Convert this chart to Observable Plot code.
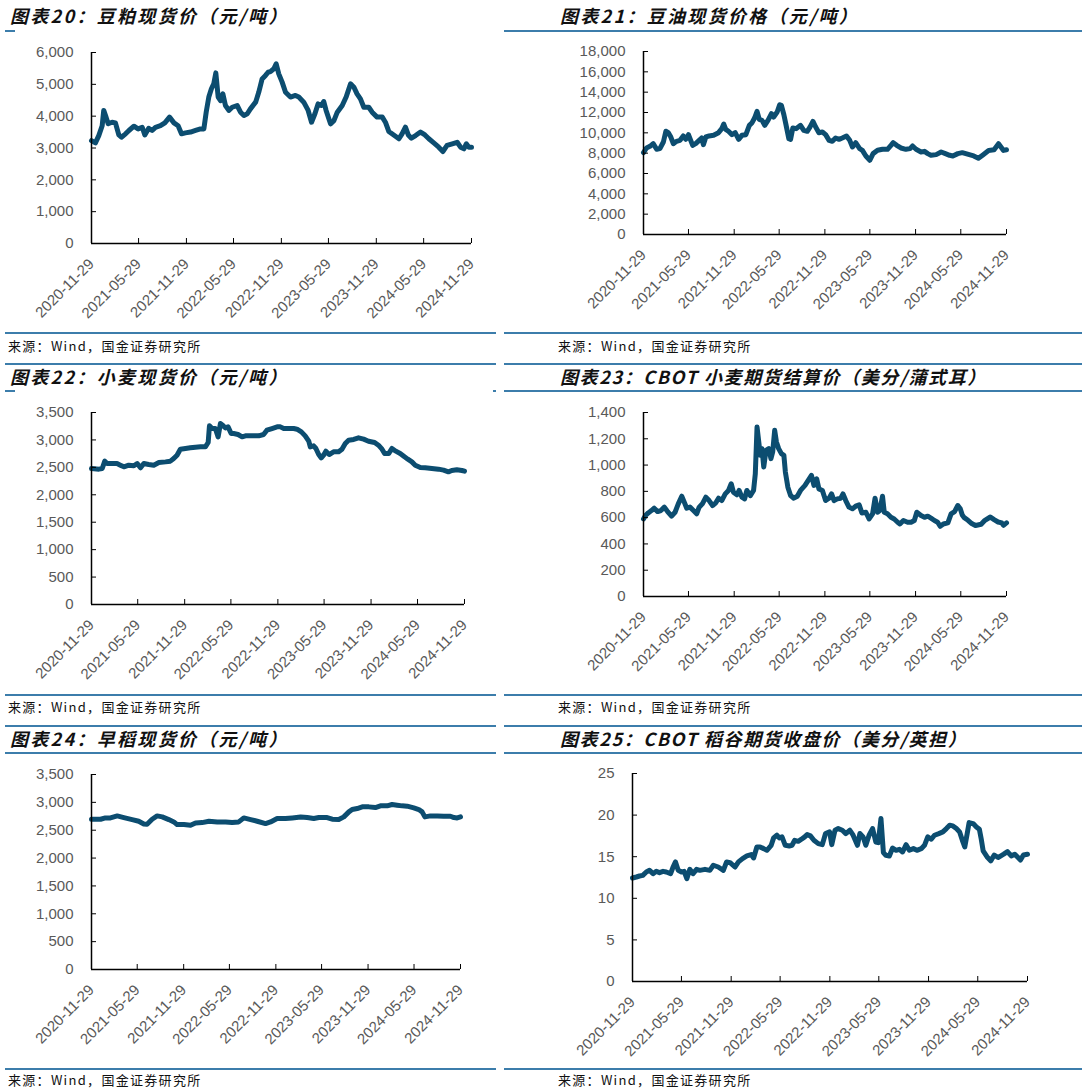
<!DOCTYPE html>
<html><head><meta charset="utf-8">
<script src="https://cdn.jsdelivr.net/npm/d3@7"></script>
<script src="https://cdn.jsdelivr.net/npm/@observablehq/plot@0.6"></script>
<style>
body{margin:0;background:#fff;}
#page{position:relative;width:1086px;height:1092px;overflow:hidden;background:#fff;}
.title{position:absolute;font-family:"Noto Sans CJK SC",sans-serif;font-weight:700;font-style:italic;font-size:18px;letter-spacing:2.3px;color:#111;white-space:nowrap;line-height:18px;}
.title.tight{letter-spacing:1.6px;}
.src{position:absolute;font-family:"Noto Sans CJK SC",sans-serif;font-size:13px;letter-spacing:1.3px;color:#111;white-space:nowrap;line-height:13px;}
.rule{position:absolute;height:2px;background:#3c7dab;}
.chart{position:absolute;}
</style></head><body><div id="page"></div>
<script>
const titles = ["图表20：豆粕现货价（元/吨）","图表21：豆油现货价格（元/吨）","图表22：小麦现货价（元/吨）","图表23：CBOT 小麦期货结算价（美分/蒲式耳）","图表24：早稻现货价（元/吨）","图表25：CBOT 稻谷期货收盘价（美分/英担）"];
const sourceText = "来源：Wind，国金证券研究所";
const xTickLabels = ["2020-11-29","2021-05-29","2021-11-29","2022-05-29","2022-11-29","2023-05-29","2023-11-29","2024-05-29","2024-11-29"];

const mealDates = ["2020-11-29","2020-12-14","2020-12-27","2021-01-09","2021-01-15","2021-01-24","2021-02-01","2021-02-16","2021-03-01","2021-03-14","2021-03-24","2021-04-09","2021-04-22","2021-05-11","2021-05-27","2021-06-12","2021-06-22","2021-07-07","2021-07-20","2021-08-02","2021-08-21","2021-09-07","2021-09-25","2021-10-12","2021-10-28","2021-11-10","2021-11-25","2021-12-15","2022-01-03","2022-01-22","2022-02-04","2022-02-13","2022-02-23","2022-03-05","2022-03-14","2022-03-22","2022-03-31","2022-04-09","2022-04-18","2022-04-28","2022-05-11","2022-05-24","2022-06-12","2022-06-25","2022-07-08","2022-07-21","2022-08-02","2022-08-22","2022-09-03","2022-09-16","2022-09-29","2022-10-09","2022-10-18","2022-10-31","2022-11-09","2022-11-19","2022-12-02","2022-12-15","2023-01-03","2023-01-22","2023-02-04","2023-02-23","2023-03-12","2023-03-25","2023-04-07","2023-04-19","2023-05-02","2023-05-11","2023-05-20","2023-06-06","2023-06-19","2023-07-02","2023-07-21","2023-08-05","2023-08-22","2023-09-04","2023-09-16","2023-09-29","2023-10-12","2023-10-31","2023-11-13","2023-12-02","2023-12-22","2024-01-03","2024-01-16","2024-02-04","2024-02-24","2024-03-07","2024-03-20","2024-03-31","2024-04-12","2024-04-28","2024-05-17","2024-06-03","2024-06-18","2024-07-07","2024-07-26","2024-08-11","2024-08-27","2024-09-16","2024-10-05","2024-10-18","2024-10-31","2024-11-09","2024-11-19","2024-11-29"];
const mealValues = [3230,3160,3390,3700,4180,3970,3760,3810,3790,3410,3340,3445,3550,3685,3600,3650,3410,3620,3550,3650,3700,3790,3970,3790,3700,3445,3475,3500,3550,3600,3600,4125,4600,4860,5015,5360,4600,4490,4700,4335,4180,4280,4335,4125,4020,4075,4230,4440,4750,5170,5280,5380,5400,5490,5645,5330,5070,4750,4600,4650,4600,4440,4180,3810,4075,4385,4335,4460,4180,3760,3860,4125,4335,4600,5015,4910,4700,4545,4280,4280,4125,3970,3970,3810,3520,3410,3290,3445,3655,3410,3310,3390,3500,3410,3290,3160,3025,2890,3080,3130,3180,3025,2975,3130,3025,3025];

const oilDates = ["2020-11-29","2020-12-11","2020-12-25","2021-01-07","2021-01-21","2021-02-03","2021-02-17","2021-02-27","2021-03-09","2021-03-19","2021-03-29","2021-04-11","2021-04-25","2021-05-08","2021-05-18","2021-05-29","2021-06-07","2021-06-15","2021-06-27","2021-07-11","2021-07-21","2021-07-28","2021-08-07","2021-08-20","2021-09-07","2021-09-27","2021-10-10","2021-10-18","2021-10-26","2021-11-06","2021-11-20","2021-12-03","2021-12-17","2021-12-30","2022-01-15","2022-01-29","2022-02-09","2022-02-19","2022-03-01","2022-03-10","2022-03-21","2022-04-01","2022-04-14","2022-04-28","2022-05-07","2022-05-21","2022-05-31","2022-06-07","2022-06-17","2022-06-26","2022-07-07","2022-07-14","2022-07-23","2022-08-05","2022-08-23","2022-09-05","2022-09-19","2022-09-30","2022-10-12","2022-10-23","2022-11-05","2022-11-19","2022-12-02","2022-12-16","2022-12-29","2023-01-11","2023-01-25","2023-02-07","2023-02-24","2023-03-09","2023-03-20","2023-04-02","2023-04-18","2023-04-29","2023-05-13","2023-05-29","2023-06-11","2023-06-29","2023-07-19","2023-08-08","2023-08-22","2023-08-31","2023-09-14","2023-10-01","2023-10-21","2023-11-07","2023-11-17","2023-12-01","2023-12-21","2024-01-04","2024-01-17","2024-01-30","2024-02-20","2024-03-11","2024-03-28","2024-04-14","2024-04-27","2024-05-17","2024-06-04","2024-07-20","2024-08-08","2024-08-26","2024-09-18","2024-10-10","2024-10-28","2024-11-17","2024-11-29"];
const oilValues = [8050,8510,8670,8935,8380,8445,9100,10150,10015,9590,8935,9165,9260,9690,9360,9820,9260,8770,8935,9260,9490,8840,9590,9690,9755,10015,10410,10865,10340,10150,9820,10015,9360,9755,9820,10735,11000,11455,12110,11325,11225,10735,11225,11880,11555,12045,12765,12700,11780,10735,9425,9360,10475,10410,10735,10245,10150,10570,11130,10570,10015,10080,9820,9260,9165,9490,9360,9490,9690,9260,8610,9035,8445,8280,7725,7300,7955,8280,8380,8380,8770,9035,8770,8510,8380,8445,8705,8380,8115,8180,7955,7790,7855,8115,7955,7790,7725,7955,8050,7730,7500,7830,8270,8330,8930,8270,8330];

const wheatDates = ["2020-11-29","2020-12-28","2021-01-10","2021-01-20","2021-01-29","2021-02-18","2021-03-09","2021-03-22","2021-04-05","2021-04-24","2021-05-14","2021-05-27","2021-06-09","2021-06-22","2021-07-11","2021-07-31","2021-08-20","2021-09-15","2021-10-04","2021-10-17","2021-10-30","2021-11-12","2021-12-02","2021-12-21","2022-01-10","2022-01-30","2022-02-18","2022-03-01","2022-03-06","2022-03-16","2022-03-29","2022-04-09","2022-04-18","2022-04-27","2022-05-07","2022-05-18","2022-05-30","2022-06-09","2022-06-26","2022-07-12","2022-07-25","2022-08-20","2022-09-15","2022-10-04","2022-10-17","2022-11-06","2022-11-26","2022-12-09","2022-12-22","2023-01-10","2023-01-30","2023-02-12","2023-03-01","2023-03-16","2023-03-30","2023-04-05","2023-04-18","2023-04-27","2023-05-08","2023-05-18","2023-05-27","2023-06-05","2023-06-18","2023-07-05","2023-07-25","2023-08-07","2023-08-20","2023-09-02","2023-09-22","2023-10-11","2023-10-31","2023-11-19","2023-12-13","2023-12-28","2024-01-11","2024-01-21","2024-02-06","2024-02-19","2024-03-05","2024-03-22","2024-04-08","2024-04-21","2024-05-07","2024-05-20","2024-06-09","2024-06-28","2024-07-24","2024-08-19","2024-09-08","2024-09-27","2024-10-10","2024-10-30","2024-11-19","2024-11-29"];
const wheatValues = [2479,2467,2479,2613,2570,2570,2570,2540,2509,2540,2528,2570,2491,2570,2552,2540,2588,2600,2613,2661,2722,2831,2844,2856,2868,2874,2874,2953,3257,3208,3208,3056,3299,3269,3220,3238,3117,3117,3099,3056,3074,3074,3074,3099,3178,3208,3238,3238,3208,3208,3208,3196,3147,3074,2977,2874,2892,2844,2734,2673,2722,2795,2734,2783,2783,2831,2935,2996,3008,3038,3014,2977,2953,2904,2831,2752,2752,2844,2795,2752,2692,2649,2600,2540,2497,2491,2479,2467,2449,2418,2443,2455,2443,2430];

const cbotWheatDates = ["2020-11-29","2020-12-07","2020-12-18","2020-12-31","2021-01-11","2021-01-25","2021-02-07","2021-02-21","2021-03-06","2021-03-22","2021-04-05","2021-04-18","2021-05-02","2021-05-12","2021-05-22","2021-06-04","2021-06-18","2021-07-01","2021-07-11","2021-07-24","2021-08-07","2021-08-20","2021-09-03","2021-09-16","2021-09-27","2021-10-10","2021-10-24","2021-11-06","2021-11-17","2021-11-26","2021-12-10","2021-12-19","2021-12-30","2022-01-10","2022-01-19","2022-02-02","2022-02-15","2022-02-22","2022-03-01","2022-03-08","2022-03-14","2022-03-21","2022-03-28","2022-04-06","2022-04-17","2022-04-26","2022-05-03","2022-05-11","2022-05-18","2022-05-27","2022-06-07","2022-06-17","2022-06-23","2022-07-03","2022-07-14","2022-07-27","2022-08-10","2022-08-23","2022-09-10","2022-09-23","2022-10-06","2022-10-16","2022-10-27","2022-11-05","2022-11-19","2022-12-02","2022-12-16","2022-12-26","2023-01-05","2023-01-18","2023-02-01","2023-02-10","2023-02-21","2023-03-06","2023-03-20","2023-04-02","2023-04-16","2023-04-27","2023-05-13","2023-05-26","2023-06-09","2023-06-19","2023-06-29","2023-07-08","2023-07-19","2023-07-26","2023-08-08","2023-08-22","2023-09-04","2023-09-18","2023-09-27","2023-10-11","2023-10-28","2023-11-11","2023-11-24","2023-12-04","2023-12-21","2024-01-04","2024-01-17","2024-01-30","2024-02-13","2024-02-26","2024-03-07","2024-03-20","2024-04-07","2024-04-20","2024-05-04","2024-05-17","2024-05-27","2024-06-04","2024-06-12","2024-06-27","2024-07-12","2024-07-27","2024-08-19","2024-09-03","2024-09-25","2024-10-10","2024-10-26","2024-11-10","2024-11-17","2024-11-29"];
const cbotWheatValues = [590,616,636,654,672,646,654,680,646,611,641,705,763,718,672,680,654,629,680,705,756,730,692,713,748,730,781,807,858,794,774,807,756,743,807,768,807,934,1290,1176,1074,1125,985,1112,1125,1049,1100,1265,1176,1125,1087,1074,947,832,768,748,763,807,845,883,921,845,896,819,807,730,748,781,730,743,748,781,730,680,667,687,697,636,641,590,629,748,641,654,763,641,629,603,590,565,552,578,565,565,578,641,616,603,611,596,578,565,534,552,560,629,646,692,667,620,600,580,555,540,550,580,605,585,567,560,542,560];

const riceDates = ["2020-11-29","2021-01-04","2021-01-23","2021-02-12","2021-03-11","2021-04-06","2021-05-09","2021-06-04","2021-06-24","2021-07-07","2021-07-27","2021-08-16","2021-09-05","2021-10-01","2021-10-21","2021-11-03","2021-11-30","2021-12-26","2022-01-15","2022-02-10","2022-03-09","2022-04-11","2022-05-14","2022-06-09","2022-07-05","2022-07-25","2022-08-21","2022-09-16","2022-10-19","2022-11-08","2022-12-04","2023-01-06","2023-02-02","2023-03-07","2023-04-02","2023-04-28","2023-05-18","2023-06-20","2023-07-10","2023-08-05","2023-08-25","2023-09-14","2023-09-27","2023-10-17","2023-11-06","2023-12-02","2023-12-28","2024-01-17","2024-02-13","2024-03-03","2024-03-23","2024-04-12","2024-05-02","2024-05-28","2024-06-17","2024-06-30","2024-07-11","2024-08-02","2024-08-29","2024-09-24","2024-10-20","2024-11-03","2024-11-16","2024-11-29"];
const riceValues = [2697,2697,2721,2721,2757,2727,2691,2661,2613,2607,2697,2757,2739,2691,2649,2601,2601,2589,2631,2637,2661,2649,2649,2637,2649,2721,2691,2661,2619,2649,2709,2709,2721,2739,2727,2709,2727,2727,2697,2691,2739,2829,2871,2889,2919,2919,2907,2937,2937,2961,2949,2937,2931,2901,2871,2829,2739,2757,2757,2751,2751,2727,2721,2739];

const cbotRiceDates = ["2020-11-29","2020-12-13","2020-12-25","2021-01-06","2021-01-19","2021-01-31","2021-02-13","2021-02-25","2021-03-09","2021-03-22","2021-04-03","2021-04-19","2021-04-28","2021-05-07","2021-05-17","2021-05-29","2021-06-08","2021-06-18","2021-06-29","2021-07-11","2021-07-24","2021-08-05","2021-08-24","2021-09-11","2021-09-24","2021-10-12","2021-10-31","2021-11-12","2021-11-25","2021-12-13","2021-12-26","2022-01-10","2022-01-26","2022-02-11","2022-02-20","2022-03-04","2022-03-16","2022-03-29","2022-04-10","2022-04-26","2022-05-05","2022-05-17","2022-05-26","2022-06-05","2022-06-17","2022-07-02","2022-07-12","2022-07-22","2022-08-04","2022-08-16","2022-08-28","2022-09-06","2022-09-18","2022-10-01","2022-10-17","2022-11-01","2022-11-13","2022-11-28","2022-12-06","2022-12-18","2022-12-30","2023-01-14","2023-01-27","2023-02-11","2023-02-23","2023-03-11","2023-03-20","2023-04-01","2023-04-11","2023-04-23","2023-05-06","2023-05-18","2023-05-27","2023-06-06","2023-06-15","2023-06-24","2023-07-07","2023-07-19","2023-08-01","2023-08-13","2023-08-25","2023-09-07","2023-09-19","2023-10-04","2023-10-17","2023-11-02","2023-11-14","2023-11-26","2023-12-09","2023-12-21","2024-01-06","2024-01-21","2024-02-03","2024-02-15","2024-02-27","2024-03-11","2024-03-23","2024-04-02","2024-04-11","2024-04-20","2024-04-27","2024-05-12","2024-05-24","2024-06-04","2024-06-11","2024-06-18","2024-07-02","2024-07-16","2024-07-29","2024-08-12","2024-09-02","2024-09-16","2024-09-30","2024-10-13","2024-11-03","2024-11-14","2024-11-29"];
const cbotRiceValues = [12.44,12.56,12.68,12.76,13.16,13.36,12.96,13.24,13.08,13.24,13.16,12.96,13.76,14.37,13.36,13.16,13.24,12.36,13.48,12.96,13.48,13.36,13.48,13.36,13.97,13.76,13.36,14.37,14.29,13.76,14.37,14.77,15.09,15.25,14.85,16.17,16.17,15.97,15.77,16.37,17.26,17.58,17.26,17.38,16.37,16.29,16.37,16.97,16.85,17.10,17.38,17.66,17.50,16.97,16.57,16.45,17.78,17.98,16.45,18.18,18.38,18.18,17.78,18.18,17.58,16.37,17.78,17.38,16.37,17.58,18.38,16.77,16.69,19.6,15.49,15.17,15.09,16.05,15.77,15.89,15.57,16.45,15.77,15.97,15.77,15.97,16.37,17.38,17.10,17.58,17.78,17.98,18.38,18.78,18.70,18.38,17.98,16.97,16.17,17.78,19.10,18.98,18.58,18.3,17.1,15.7,15.0,14.5,15.2,14.9,15.3,15.6,15.1,15.3,14.6,15.2,15.3];

const lineColor = "#0c4d70";
const page = document.getElementById("page");
const xStart = new Date("2020-11-29"), xEnd = new Date("2024-11-29");
const xTicks = xTickLabels.map(d => new Date(d));

function chart({dates, values, yMax, yStep, fmt, box}) {
  const data = d3.zip(dates, values).map(([d, v]) => ({date: new Date(d), value: v}));
  const yTicks = d3.range(0, yMax + yStep / 2, yStep);
  const svg = Plot.plot({
    width: box.w, height: box.h,
    marginLeft: box.ml, marginRight: box.mr, marginTop: box.mt, marginBottom: box.mb,
    style: {fontFamily: "'Liberation Sans', Arial, sans-serif", fontSize: "15px", background: "transparent", overflow: "visible"},
    x: {type: "utc", domain: [xStart, xEnd], label: null},
    y: {domain: [0, yMax], label: null},
    marks: [
      Plot.lineY(data, {x: "date", y: "value", stroke: lineColor, strokeWidth: 5, strokeLinejoin: "round", strokeLinecap: "round"}),
      Plot.axisY(yTicks, {tickSize: -5, tickPadding: 23, tickFormat: fmt, fill: "#595959", stroke: "#000", fontSize: 15, label: null}),
      Plot.axisX(xTicks, {tickSize: -5, tickPadding: 23, dx: 0, tickRotate: -45, tickFormat: d3.utcFormat("%Y-%m-%d"), fill: "#595959", stroke: "#000", fontSize: 15, label: null}),
      Plot.ruleX([xStart], {stroke: "#000", strokeWidth: 1.5}),
      Plot.ruleY([0], {stroke: "#000", strokeWidth: 1.5})
    ]
  });
  svg.classList.add("chart");
  svg.style.left = box.left + "px";
  svg.style.top = box.top + "px";
  page.appendChild(svg);
}

function div(cls, text, left, top, width) {
  const e = document.createElement("div");
  e.className = cls;
  if (text) e.textContent = text;
  e.style.left = left + "px";
  e.style.top = top + "px";
  if (width != null) e.style.width = width + "px";
  page.appendChild(e);
}

const L = [5, 496], R = [504, 1082];
// row 1
div("title", titles[0], 10, 6);
div("title", titles[1], 560, 6);
div("rule", "", 5, 30, 10);
div("rule", "", R[0], 30, R[1] - R[0]);
div("rule", "", L[0], 332, L[1] - L[0]);
div("rule", "", R[0], 332, R[1] - R[0]);
div("src", sourceText, 8, 339);
div("src", sourceText, 558, 339);
// row 2
div("rule", "", L[0], 363, L[1] - L[0]);
div("rule", "", R[0], 363, R[1] - R[0]);
div("title", titles[2], 10, 367);
div("title tight", titles[3], 560, 367);
div("rule", "", 5, 390, 10);
div("rule", "", 493, 390, 3);
div("rule", "", R[0], 390, R[1] - R[0]);
div("rule", "", L[0], 694, L[1] - L[0]);
div("rule", "", R[0], 694, R[1] - R[0]);
div("src", sourceText, 8, 700);
div("src", sourceText, 558, 700);
// row 3
div("rule", "", L[0], 725, L[1] - L[0]);
div("rule", "", R[0], 725, R[1] - R[0]);
div("title", titles[4], 10, 729);
div("title tight", titles[5], 560, 729);
div("rule", "", L[0], 752, L[1] - L[0]);
div("rule", "", R[0], 752, R[1] - R[0]);
div("rule", "", L[0], 1068, L[1] - L[0]);
div("rule", "", R[0], 1068, R[1] - R[0]);
div("src", sourceText, 8, 1073);
div("src", sourceText, 558, 1073);

const comma = d3.format(",");
chart({dates: mealDates, values: mealValues, yMax: 6000, yStep: 1000, fmt: comma,
  box: {left: 0, top: 40, w: 495, h: 290, ml: 91, mr: 24, mt: 12, mb: 87}});
chart({dates: oilDates, values: oilValues, yMax: 18000, yStep: 2000, fmt: comma,
  box: {left: 500, top: 40, w: 586, h: 290, ml: 143, mr: 80, mt: 11, mb: 96}});
chart({dates: wheatDates, values: wheatValues, yMax: 3500, yStep: 500, fmt: comma,
  box: {left: 0, top: 400, w: 495, h: 290, ml: 91, mr: 31, mt: 12, mb: 86}});
chart({dates: cbotWheatDates, values: cbotWheatValues, yMax: 1400, yStep: 200, fmt: comma,
  box: {left: 500, top: 400, w: 586, h: 290, ml: 143, mr: 80, mt: 12, mb: 94}});
chart({dates: riceDates, values: riceValues, yMax: 3500, yStep: 500, fmt: comma,
  box: {left: 0, top: 760, w: 495, h: 300, ml: 91, mr: 35, mt: 14, mb: 91}});
chart({dates: cbotRiceDates, values: cbotRiceValues, yMax: 25, yStep: 5, fmt: d3.format("d"),
  box: {left: 500, top: 760, w: 586, h: 300, ml: 132, mr: 59, mt: 13, mb: 79}});
</script></body></html>
